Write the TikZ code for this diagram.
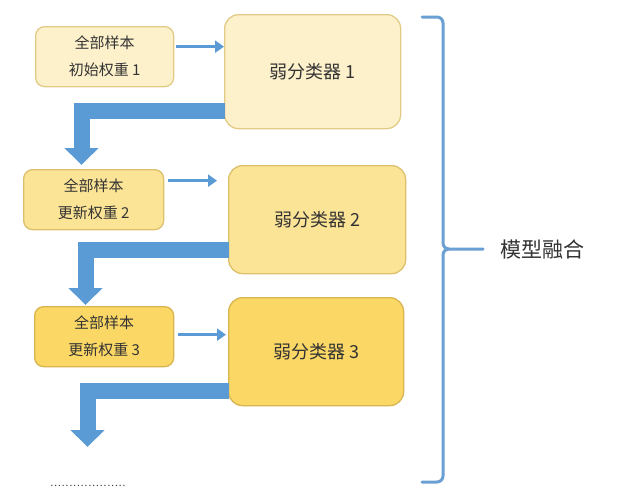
\documentclass[tikz,border=0pt]{standalone}
\usepackage{fontspec}
\setmainfont{Noto Sans CJK SC}
\usetikzlibrary{arrows.meta,calc}
\definecolor{blueA}{HTML}{5B9BD5}
\definecolor{braceC}{HTML}{6AA0D3}
\definecolor{fillA}{HTML}{FDF1CB}
\definecolor{lineA}{HTML}{E2CB86}
\definecolor{fillB}{HTML}{FCE497}
\definecolor{lineB}{HTML}{DDC06A}
\definecolor{fillC}{HTML}{FBD766}
\definecolor{lineC}{HTML}{D8B54E}
\definecolor{txt}{HTML}{333333}
\tikzset{
  sbox/.style={draw, line width=1.3pt, rounded corners=9pt, anchor=north west, align=center,
    text=txt, font=\fontsize{15}{27}\selectfont, inner sep=0pt},
  bbox/.style={draw, line width=1.3pt, rounded corners=14pt, anchor=north west, align=center,
    text=txt, font=\fontsize{18}{20}\selectfont, inner sep=0pt},
  thinarr/.style={draw=blueA, line width=3.5pt, -{Triangle[width=12pt,length=9pt]}},
  thickarr/.style={draw=blueA, line width=16pt, -{Triangle[width=33pt,length=17pt]}},
  brace/.style={draw=braceC, line width=3pt, line cap=round},
}
\begin{document}
\begin{tikzpicture}[x=1pt,y=-1pt]
\useasboundingbox[fill=white] (0,0) rectangle (617,499);

% boxes
\node[sbox, fill=fillA, draw=lineA, minimum width=138pt, minimum height=60pt] (s1) at (35,26) {全部样本\\初始权重 1};
\node[bbox, fill=fillA, draw=lineA, minimum width=176pt, minimum height=114pt] (b1) at (224,14) {弱分类器 1};
\node[sbox, fill=fillB, draw=lineB, minimum width=140pt, minimum height=60pt] (s2) at (23,169) {全部样本\\更新权重 2};
\node[bbox, fill=fillB, draw=lineB, minimum width=177pt, minimum height=108pt] (b2) at (228,165) {弱分类器 2};
\node[sbox, fill=fillC, draw=lineC, minimum width=139pt, minimum height=60pt] (s3) at (34,306) {全部样本\\更新权重 3};
\node[bbox, fill=fillC, draw=lineC, minimum width=175pt, minimum height=108pt] (b3) at (228,297) {弱分类器 3};

% thin arrows
\draw[thinarr] ($(s1.east)+(2,-10)$) -- ($(s1.east -| b1.west)+(0,-10)$);
\draw[thinarr] ($(s2.east)+(4,-19)$) -- ($(s2.east -| b2.west)+(-11,-19)$);
\draw[thinarr] ($(s3.east)+(4,-2)$) -- ($(s3.east -| b3.west)+(-2,-2)$);

% thick bent arrows
\draw[thickarr] ($(b1.south west)+(0.5,-18.5)$) -| ($(s2.north west)+(58.5,-4)$);
\draw[thickarr] ($(b2.south west)+(0.5,-24.5)$) -| ($(s3.north west)+(51.5,-1)$);
\coordinate (end3) at (87.5,447);
\draw[thickarr] ($(b3.south west)+(0.5,-15)$) -| (end3);

% dots
\node[text=txt, font=\fontsize{10}{10}\selectfont, inner sep=0pt] (dots) at (88,486)
  {\makebox[76pt]{\leaders\hbox to 3.8pt{\hss.\hss}\hfill}};

% brace
\coordinate (bt) at (422,17);
\coordinate (bb) at (422,482);
\coordinate (bm) at (483,249);
\draw[brace] (bt) -- (437,17) to[out=0,in=90] (443,23) -- (443,243)
  to[out=-90,in=180] (449,249) -- (bm);
\draw[brace] (449,249) to[out=180,in=90] (443,255) -- (443,476)
  to[out=-90,in=0] (437,482) -- (bb);
\node[text=txt, font=\fontsize{21}{24}\selectfont, inner sep=0pt] (fuse) at (542,249) {模型融合};
\end{tikzpicture}
\end{document}
